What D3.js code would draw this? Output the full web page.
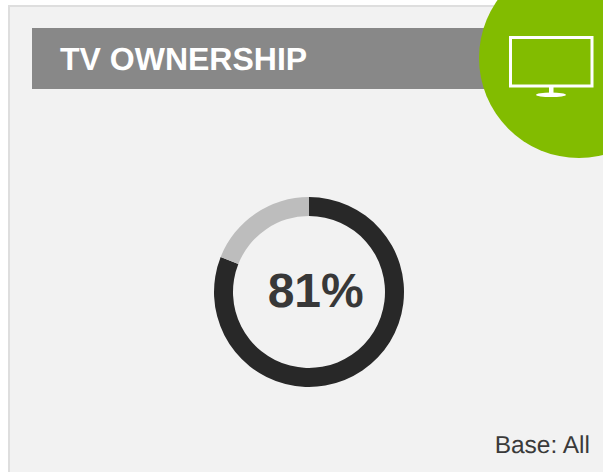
<!DOCTYPE html>
<html>
<head>
<meta charset="utf-8">
<script src="https://cdn.jsdelivr.net/npm/d3@7/dist/d3.min.js"></script>
<style>
html,body{margin:0;padding:0;background:#fff;overflow:hidden}
svg{display:block}
text{font-family:"Liberation Sans",Arial,sans-serif;text-rendering:geometricPrecision}
</style>
</head>
<body>
<script>
const title = "TV OWNERSHIP";
const categories = ["Own a TV", "Do not own a TV"];
const values = [81, 19];
const sliceColors = ["#282828", "#bdbdbd"];
const centerLabel = "81%";
const baseLabel = "Base: All";

const svg = d3.select("body").append("svg").attr("width", 603).attr("height", 472);

svg.append("rect").attr("x", 9).attr("y", 6).attr("width", 620).attr("height", 500)
  .attr("fill", "#f2f2f2").attr("stroke", "#dedede").attr("stroke-width", 2);

svg.append("rect").attr("x", 32).attr("y", 28).attr("width", 480).attr("height", 61).attr("fill", "#888888");
svg.append("text").attr("x", 60).attr("y", 69.5).attr("fill", "#fff")
  .attr("font-size", 32).attr("font-weight", "bold").text(title);

svg.append("circle").attr("cx", 579).attr("cy", 58).attr("r", 100).attr("fill", "#82bc00");

const icon = svg.append("g");
icon.append("rect").attr("x", 510.5).attr("y", 37.5).attr("width", 81.5).attr("height", 48.5)
  .attr("fill", "none").attr("stroke", "#fff").attr("stroke-width", 3);
icon.append("rect").attr("x", 549).attr("y", 87).attr("width", 4.5).attr("height", 6).attr("fill", "#fff");
icon.append("ellipse").attr("cx", 551).attr("cy", 94.8).attr("rx", 15).attr("ry", 2.3).attr("fill", "#fff");

const pie = d3.pie().sort(null).value(d => d);
const arc = d3.arc().innerRadius(76).outerRadius(95);
const ring = svg.append("g").attr("transform", "translate(309,292)");
ring.selectAll("path").data(pie(values)).join("path")
  .attr("d", arc).attr("fill", (d, i) => sliceColors[i]);

svg.append("text").attr("x", 315.7).attr("y", 307).attr("text-anchor", "middle")
  .attr("fill", "#383838").attr("font-size", 48).attr("font-weight", "bold").text(centerLabel);

svg.append("text").attr("x", 590).attr("y", 453).attr("text-anchor", "end")
  .attr("fill", "#3a3a3a").attr("font-size", 24.5).text(baseLabel);
</script>
</body>
</html>
